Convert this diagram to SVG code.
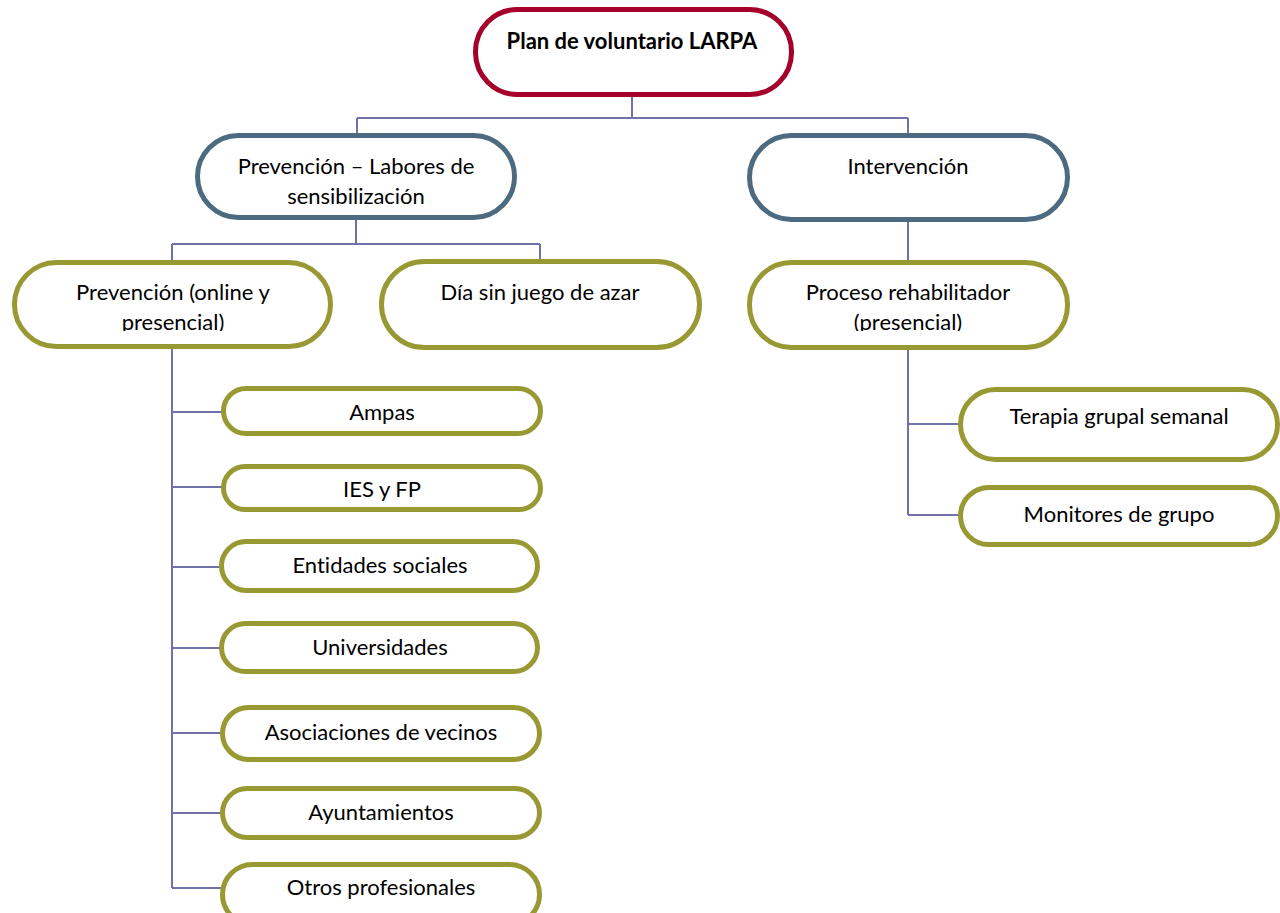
<svg xmlns="http://www.w3.org/2000/svg" width="1280" height="913" viewBox="0 0 1280 913">
<style>
.n{fill:#fff;stroke-width:5}
.r{stroke:#a5002a}
.b{stroke:#4c6b80}
.o{stroke:#999933}
.t{font-family:Lato,"Liberation Sans",sans-serif;font-size:22px;fill:#000;text-anchor:middle;font-variant-ligatures:none}
.c{fill:none;stroke:#7070aa;stroke-width:2}
</style>
<defs>
<clipPath id="cl1"><rect x="0" y="250" width="340" height="81"/></clipPath>
<clipPath id="cl2"><rect x="740" y="250" width="340" height="81"/></clipPath>
</defs>
<rect width="1280" height="913" fill="#fff"/>
<g id="connectors">
<path class="c" d="M632 97V118M357 118H908M357 118V135M908 118V135"/>
<path class="c" d="M356 220V244M172 244H540M172 244V261M540 244V261"/>
<path class="c" d="M908 221V262"/>
<path class="c" d="M172 349V888M172 412H223M172 487H223M172 567H221M172 648H221M172 733H222M172 813H222M172 888H222"/>
<path class="c" d="M908 349V515M908 424H960M908 515H960"/>
</g>
<g id="root"><rect class="n r" x="475.5" y="9.5" width="316" height="85" rx="42"/><text class="t" x="632" y="49" font-weight="bold">Plan de voluntario LARPA</text></g>
<g id="prevencion"><rect class="n b" x="197.5" y="135.5" width="317" height="82" rx="41"/><text class="t" x="356" y="174">Prevención – Labores de</text><text class="t" x="356" y="204">sensibilización</text></g>
<g id="intervencion"><rect class="n b" x="749.5" y="135.5" width="318" height="84" rx="42"/><text class="t" x="908" y="174">Intervención</text></g>
<g id="prev-online"><rect class="n o" x="14.5" y="262.5" width="316" height="84" rx="42"/><g clip-path="url(#cl1)"><text class="t" x="173" y="300">Prevención (online y</text><text class="t" x="173" y="330">presencial)</text></g></g>
<g id="dia"><rect class="n o" x="381.5" y="261.5" width="318" height="86" rx="43"/><text class="t" x="540" y="300">Día sin juego de azar</text></g>
<g id="proceso"><rect class="n o" x="749.5" y="262.5" width="318" height="85" rx="42"/><g clip-path="url(#cl2)"><text class="t" x="908" y="300">Proceso rehabilitador</text><text class="t" x="908" y="330">(presencial)</text></g></g>
<g id="ampas"><rect class="n o" x="223.5" y="388.5" width="317" height="45" rx="22.5"/><text class="t" x="382" y="420">Ampas</text></g>
<g id="ies"><rect class="n o" x="223.5" y="466.5" width="317" height="43" rx="21.5"/><text class="t" x="382" y="497">IES y FP</text></g>
<g id="entidades"><rect class="n o" x="221.5" y="541.5" width="316" height="49" rx="24.5"/><text class="t" x="380" y="573">Entidades sociales</text></g>
<g id="universidades"><rect class="n o" x="221.5" y="623.5" width="316" height="48" rx="24"/><text class="t" x="380" y="655">Universidades</text></g>
<g id="asociaciones"><rect class="n o" x="222.5" y="707.5" width="317" height="52" rx="26"/><text class="t" x="381" y="740">Asociaciones de vecinos</text></g>
<g id="ayuntamientos"><rect class="n o" x="222.5" y="788.5" width="317" height="49" rx="24.5"/><text class="t" x="381" y="820">Ayuntamientos</text></g>
<g id="otros"><rect class="n o" x="222.5" y="864.5" width="317" height="60" rx="30"/><text class="t" x="381" y="895">Otros profesionales</text></g>
<g id="terapia"><rect class="n o" x="960.5" y="389.5" width="317" height="70" rx="35"/><text class="t" x="1119" y="424">Terapia grupal semanal</text></g>
<g id="monitores"><rect class="n o" x="960.5" y="487.5" width="317" height="57" rx="28.5"/><text class="t" x="1119" y="522">Monitores de grupo</text></g>
</svg>
